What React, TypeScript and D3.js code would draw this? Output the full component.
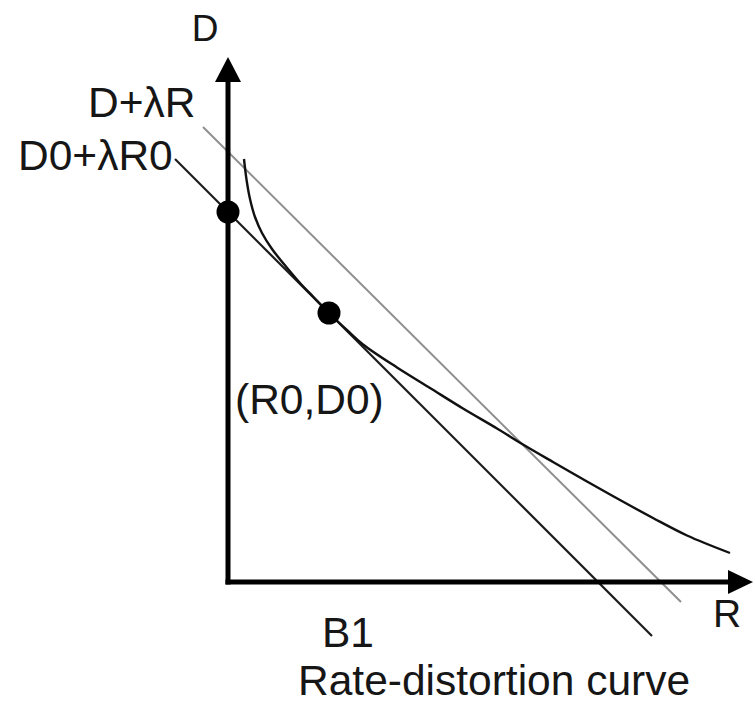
import React from "react";
import * as d3 from "d3";

// ---- data (R, D) in axis units ----
const axisMax = 10.5;
const curveR = [0.32, 0.37, 0.44, 0.54, 0.68, 0.88, 1.2, 1.44, 1.7, 2.02, 2.4, 2.7, 3.38, 4.04, 4.7, 5.38, 5.9, 6.5, 7.18, 7.84, 8.5, 9.18, 10.04];
const curveD = [8.46, 8.05, 7.66, 7.3, 6.98, 6.66, 6.26, 5.98, 5.71, 5.38, 5.02, 4.75, 4.29, 3.88, 3.47, 3.07, 2.75, 2.4, 2.01, 1.64, 1.28, 0.93, 0.58];
const tangentR = [-1.06, 8.48];
const tangentD = [8.46, -1.08];
const shiftedR = [-0.5, 9.06];
const shiftedD = [9.1, -0.4];
const pointR = [0, 2.02];
const pointD = [7.4, 5.38];

const W = 755;
const H = 704;
const font = "'Liberation Sans', Arial, sans-serif";

export default function App() {
  const x = d3.scaleLinear().domain([0, axisMax]).range([228, 753]);
  const y = d3.scaleLinear().domain([0, axisMax]).range([582, 57]);
  const line = d3
    .line<[number, number]>()
    .x((d) => x(d[0]))
    .y((d) => y(d[1]));
  const curveLine = d3
    .line<[number, number]>()
    .x((d) => x(d[0]))
    .y((d) => y(d[1]))
    .curve(d3.curveCatmullRom.alpha(0.5));

  const curvePts = curveR.map((r, i) => [r, curveD[i]] as [number, number]);
  const tanPts = tangentR.map((r, i) => [r, tangentD[i]] as [number, number]);
  const shPts = shiftedR.map((r, i) => [r, shiftedD[i]] as [number, number]);

  const x0 = x(0);
  const y0 = y(0);
  const xEnd = x(axisMax);
  const yEnd = y(axisMax);

  return (
    <svg
      width={W}
      height={H}
      style={{ position: "absolute", left: 0, top: 0, background: "#fff" }}
    >
      {/* gray line D+λR */}
      <path d={line(shPts) || ""} fill="none" stroke="#8f8f8f" strokeWidth={2} />
      {/* tangent line */}
      <path d={line(tanPts) || ""} fill="none" stroke="#1c1c1c" strokeWidth={2.2} />
      {/* RD curve */}
      <path d={curveLine(curvePts) || ""} fill="none" stroke="#111" strokeWidth={2.4} />

      {/* axes */}
      <line x1={x0} y1={y0 + 2.5} x2={x0} y2={yEnd + 22} stroke="#000" strokeWidth={5} />
      <polygon points={`${x0},${yEnd} ${x0 - 13},${yEnd + 25} ${x0 + 13},${yEnd + 25}`} fill="#000" />
      <line x1={x0 - 2.5} y1={y0} x2={xEnd - 22} y2={y0} stroke="#000" strokeWidth={5} />
      <polygon points={`${xEnd},${y0} ${xEnd - 25},${y0 - 12} ${xEnd - 25},${y0 + 12}`} fill="#000" />

      {/* points */}
      {pointR.map((r, i) => (
        <circle key={i} cx={x(r)} cy={y(pointD[i])} r={11.5} fill="#000" />
      ))}

      {/* texts */}
      <g fontFamily={font} fill="#161616">
        <text x={205} y={41} fontSize={37} textAnchor="middle">D</text>
        <text x={727} y={627} fontSize={39} textAnchor="middle">R</text>
        <text x={88} y={117} fontSize={42.5}>D+λR</text>
        <text x={18} y={170} fontSize={42.5}>D0+λR0</text>
        <text x={235} y={414} fontSize={42.5}>(R0,D0)</text>
        <text x={322} y={647} fontSize={42.5}>B1</text>
        <text x={298} y={695} fontSize={42.5}>Rate-distortion curve</text>
      </g>
    </svg>
  );
}
